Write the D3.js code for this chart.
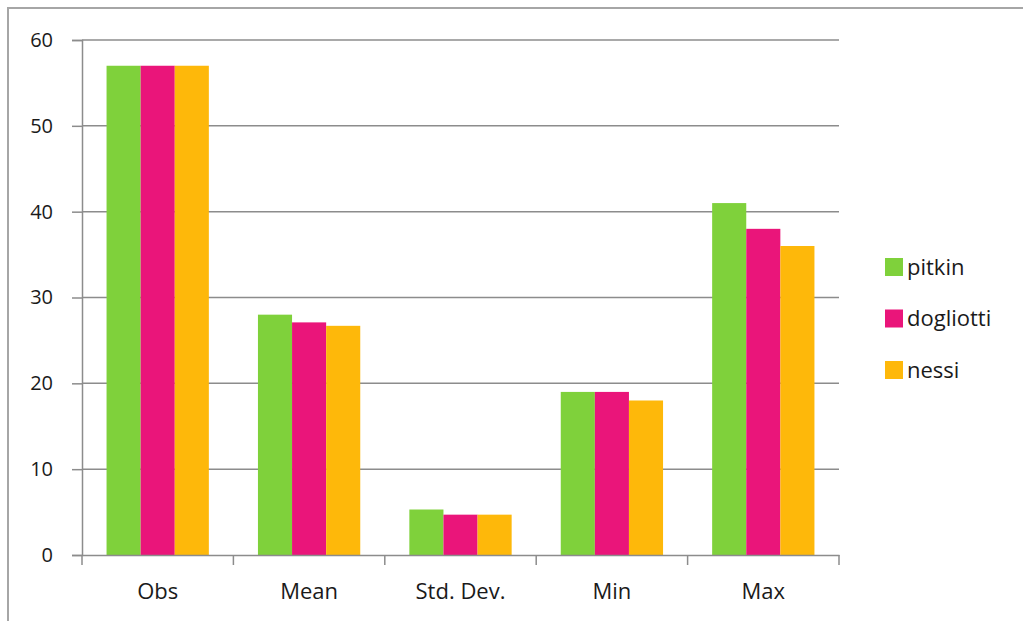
<!DOCTYPE html>
<html>
<head>
<meta charset="utf-8">
<script src="https://cdn.jsdelivr.net/npm/d3@7"></script>
<style>
    body { margin: 0; background: #fff; }
    svg text { font-family: "Open Sans", Lato, sans-serif; fill: #1a1a1a; }
</style>
</head>
<body>
<svg id="chart" width="1023" height="621"></svg>
<script>
const categories = ['Obs', 'Mean', 'Std. Dev.', 'Min', 'Max'];
const seriesNames = ['pitkin', 'dogliotti', 'nessi'];
const pitkin = [57, 28, 5.3, 19, 41];
const dogliotti = [57, 27.1, 4.7, 19, 38];
const nessi = [57, 26.7, 4.7, 18, 36];
const yTicks = [0, 10, 20, 30, 40, 50, 60];
const colors = ['#7fd13b', '#ea157a', '#feb80a'];

const series = [pitkin, dogliotti, nessi];

const svg = d3.select('#chart');
const plot = {left: 82, right: 839, top: 40, bottom: 555};

// outer frame, cut off by the window on the right and bottom
svg.append('rect')
    .attr('x', 8).attr('y', 8)
    .attr('width', 1100).attr('height', 700)
    .attr('fill', 'none')
    .attr('stroke', '#a6a6a6')
    .attr('stroke-width', 2);

const x = d3.scaleBand().domain(categories).range([plot.left, plot.right]).paddingInner(0).paddingOuter(0);
const xInner = d3.scaleBand().domain(seriesNames).range([0, x.bandwidth()]).paddingOuter(0.72).paddingInner(0);
const y = d3.scaleLinear().domain([0, 60]).range([plot.bottom, plot.top]);

// gridlines
svg.append('g')
    .selectAll('line')
    .data(yTicks.filter(d => d > 0))
    .join('line')
        .attr('x1', plot.left).attr('x2', plot.right)
        .attr('y1', d => y(d)).attr('y2', d => y(d))
        .attr('stroke', '#8c8c8c')
        .attr('stroke-width', 1.5);

// bars
const groups = svg.append('g')
    .selectAll('g')
    .data(seriesNames)
    .join('g')
        .attr('fill', (d, i) => colors[i]);

groups.selectAll('rect')
    .data((name, i) => series[i].map((v, j) => ({name, cat: categories[j], value: v})))
    .join('rect')
        .attr('x', d => x(d.cat) + xInner(d.name))
        .attr('width', xInner.bandwidth())
        .attr('y', d => y(d.value))
        .attr('height', d => y(0) - y(d.value));

// y axis
const yAxis = svg.append('g')
    .attr('transform', `translate(${plot.left},0)`)
    .call(d3.axisLeft(y).tickValues(yTicks).tickSize(10).tickPadding(19));
yAxis.select('.domain').attr('stroke', '#8c8c8c').attr('stroke-width', 1.5);
yAxis.selectAll('.tick line').attr('stroke', '#8c8c8c').attr('stroke-width', 1.5);
yAxis.selectAll('.tick text').attr('font-size', 20).style('fill', '#1a1a1a');

// x axis
const xAxis = svg.append('g')
    .attr('transform', `translate(0,${plot.bottom})`)
    .call(d3.axisBottom(x).tickSize(0).tickPadding(28));
xAxis.select('.domain').attr('stroke', '#8c8c8c').attr('stroke-width', 1.5);
xAxis.selectAll('.tick text').attr('font-size', 22).style('fill', '#1a1a1a');
xAxis.selectAll('line.sep')
    .data(d3.range(categories.length + 1))
    .join('line')
        .attr('class', 'sep')
        .attr('x1', i => plot.left + i * x.step()).attr('x2', i => plot.left + i * x.step())
        .attr('y1', 0).attr('y2', 10)
        .attr('stroke', '#8c8c8c')
        .attr('stroke-width', 1.5);

// legend
const legend = svg.append('g')
    .attr('transform', 'translate(885,258)')
    .selectAll('g')
    .data(seriesNames)
    .join('g')
        .attr('transform', (d, i) => `translate(0,${i * 51.5})`);

legend.append('rect')
    .attr('width', 18).attr('height', 18)
    .attr('fill', (d, i) => colors[i]);

legend.append('text')
    .attr('x', 22).attr('y', 9)
    .attr('dy', '0.35em')
    .attr('font-size', 22)
    .text(d => d);
</script>
</body>
</html>
